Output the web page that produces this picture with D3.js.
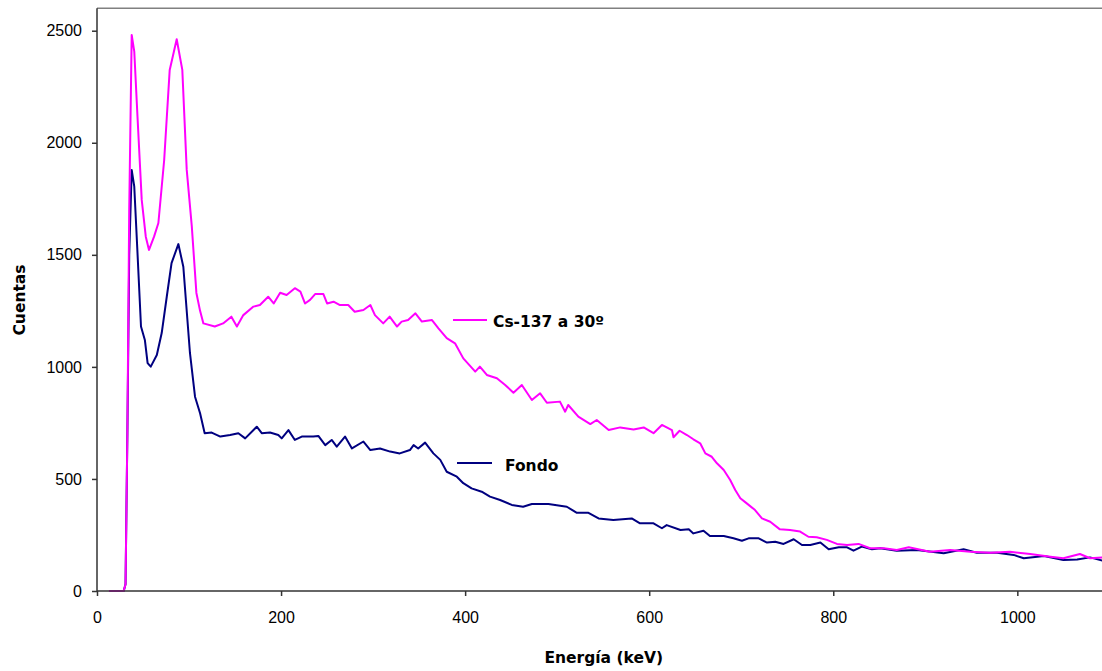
<!DOCTYPE html>
<html>
<head>
<meta charset="utf-8">
<script src="https://cdn.jsdelivr.net/npm/d3@7.9.0/dist/d3.min.js"></script>
<style>
  html, body { margin: 0; padding: 0; background: #fff; }
  svg { display: block; }
  .tick text { font-family: "Liberation Sans", Arial, sans-serif; font-size: 16px; fill: #000; }
  .title { font-family: "Comic Sans MS", "DejaVu Sans", sans-serif; font-weight: bold; font-size: 15.5px; fill: #000; }
</style>
</head>
<body>
<svg id="chart" width="1102" height="671"></svg>
<script>
// Espectro Cs-137 dispersado a 30º, [energía keV, cuentas]
const csData = [
  [13,0],[29,0],[31,30],[33,700],[35,1700],[37.7,2481],[40.5,2407],[44,2116],[48.6,1745],[53,1581],
  [56.5,1522],[62,1581],[66.7,1642],[73,1923],[79,2325],[86.6,2462],[92.7,2325],[97.5,1879],[103,1627],
  [108,1330],[112,1250],[115.6,1194],[128,1180],[137,1194],[146,1224],[152,1180],[159,1231],[170,1269],
  [177,1276],[186,1313],[192,1283],[199,1331],[206,1321],[215,1351],[221,1336],[226,1283],[231.5,1299],
  [237,1325],[246,1325],[250,1283],[257,1291],[264,1276],[273,1276],[280,1246],[289.5,1254],[297,1276],
  [302,1231],[311,1194],[318,1224],[326,1180],[331,1202],[338,1209],[346,1239],[353,1202],[364,1209],
  [371,1172],[380,1128],[389,1105],[398,1038],[411,979],[416,1001],[423.6,964],[434.5,949],[443.5,919],
  [452.5,885],[461.6,919],[472.5,852],[481.5,882],[488.8,840],[503,845],[508.7,800],[512,830],[523,778],
  [536,745],[543,763],[556,718],[568.5,730],[583,721],[594,730],[604.7,704],[613.8,741],[624.7,718],
  [626.4,686],[633,715],[641,696],[648,677],[655.4,659],[661,614],[668,599],[673.6,570],[681,540],
  [688,495],[693.5,451],[699,414],[706,391],[715,361],[722.5,324],[731.5,309],[742,275],[753,272],
  [764,265],[773,242],[782,240],[793,228],[804,210],[815,205],[827.5,210],[840,191],[855,191],[869,183],
  [882,195],[905,175],[927,183],[949,175],[970.6,171],[992,175],[1014,165],[1036,153],[1050,146],
  [1068,165],[1079,146],[1095,150]
];

// Fondo
const fondoData = [
  [13,0],[29,0],[31,30],[33,700],[35,1500],[37.7,1879],[40.5,1804],[44,1508],[47.8,1180],[52,1120],
  [55,1017],[58.4,1001],[65,1053],[70.3,1151],[75.8,1313],[81,1463],[88.4,1548],[93.8,1447],[101,1062],
  [106.5,867],[112,793],[117,704],[124.6,707],[134,689],[144.6,696],[153.6,704],[161,681],[173.6,733],
  [179,704],[188,707],[197,696],[200.7,681],[208,718],[215,674],[222.5,689],[235,689],[240.5,692],
  [248,651],[255,674],[260.5,644],[269.5,689],[277,636],[289.5,667],[297,629],[307.6,636],[318.5,622],
  [329,614],[340,629],[344,651],[349,636],[356.5,662],[365.5,614],[373,585],[380,532],[391,510],
  [398,481],[407,458],[418,443],[427,421],[438,406],[450.7,384],[463,376],[472.5,388],[490.5,388],
  [510.5,376],[521.4,349],[534,349],[545,324],[561,317],[581,324],[590,302],[604.7,302],[613.8,280],
  [619,294],[634,272],[643,275],[648,257],[659,269],[666,245],[681,245],[691.6,235],[700.7,224],
  [708,235],[719,235],[728,216],[737,220],[746,210],[757,231],[766,205],[775,205],[786,216],[795,186],
  [806,195],[815,195],[822,180],[831,198],[842,186],[851,191],[869,180],[891,183],[920,168],[941.6,186],
  [956,171],[978,171],[996,161],[1007,146],[1029,156],[1050,138],[1065,141],[1079,150],[1095,133]
];

const xTicks = [0, 200, 400, 600, 800, 1000];
const yTicks = [0, 500, 1000, 1500, 2000, 2500];

const svg = d3.select('#chart');

const x = d3.scaleLinear().domain([0, 1200]).range([97, 1201.4]);
const y = d3.scaleLinear().domain([0, 2600]).range([591, 8.3]);

// plot area top border
svg.append('line')
  .attr('x1', x(0)).attr('x2', 1102)
  .attr('y1', y(2600)).attr('y2', y(2600))
  .attr('stroke', '#808080').attr('stroke-width', 1.5);

const line = d3.line().x(d => x(d[0])).y(d => y(d[1]));

svg.append('path').datum(fondoData)
  .attr('d', line).attr('fill', 'none')
  .attr('stroke', '#000080').attr('stroke-width', 2).attr('stroke-linejoin', 'round');

svg.append('path').datum(csData)
  .attr('d', line).attr('fill', 'none')
  .attr('stroke', '#ff00ff').attr('stroke-width', 2).attr('stroke-linejoin', 'round');

const xAxis = svg.append('g')
  .attr('transform', `translate(0,${y(0)})`)
  .call(d3.axisBottom(x).tickValues(xTicks).tickFormat(d3.format('d'))
    .tickSize(5).tickPadding(16).tickSizeOuter(0));

const yAxis = svg.append('g')
  .attr('transform', `translate(${x(0)},0)`)
  .call(d3.axisLeft(y).tickValues(yTicks).tickFormat(d3.format('d'))
    .tickSize(5).tickPadding(10).tickSizeOuter(0));

[xAxis, yAxis].forEach(g => {
  g.selectAll('.domain, .tick line').attr('stroke', '#333').attr('stroke-width', 1.5);
  g.attr('font-family', null).attr('font-size', null);
});
yAxis.select('.domain').attr('d', `M0,${y(0)}V${y(2600)}`);
xAxis.select('.domain').attr('d', `M${x(0)},0H1102`);

// axis titles
svg.append('text').attr('class', 'title')
  .attr('x', 603.7).attr('y', 662.5).attr('text-anchor', 'middle')
  .text('Energía (keV)');

svg.append('text').attr('class', 'title')
  .attr('transform', 'translate(25,300) rotate(-90)').attr('text-anchor', 'middle')
  .text('Cuentas');

// legend entries placed next to the curves
const legend = [
  { name: 'Cs-137 a 30º', color: '#ff00ff', x1: 453, x2: 487, ly: 320, tx: 493, ty: 326.5 },
  { name: 'Fondo', color: '#000080', x1: 457, x2: 492, ly: 463, tx: 505, ty: 470.5 }
];
legend.forEach(d => {
  svg.append('line')
    .attr('x1', d.x1).attr('x2', d.x2).attr('y1', d.ly).attr('y2', d.ly)
    .attr('stroke', d.color).attr('stroke-width', 2);
  svg.append('text').attr('class', 'title')
    .attr('x', d.tx).attr('y', d.ty).text(d.name);
});
</script>
</body>
</html>
